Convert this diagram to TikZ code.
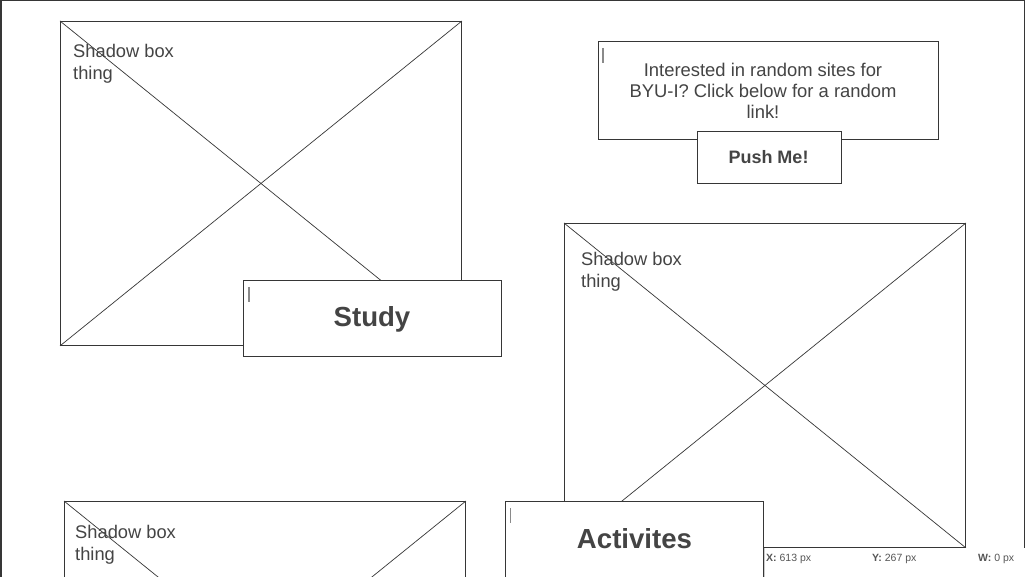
\documentclass[tikz,border=0pt]{standalone}
\usepackage{fontspec}
\setmainfont{Liberation Sans}
\definecolor{linec}{HTML}{363636}
\definecolor{textc}{HTML}{444444}
\definecolor{cursc}{HTML}{8A8A8A}
\definecolor{statc}{HTML}{555555}
\tikzset{
  wbox/.style={draw=linec, fill=white, line width=0.9pt, inner sep=0pt, anchor=north west},
  diag/.style={draw=linec, line width=0.7pt},
  shadowtxt/.style={text=textc, font=\fontsize{18.3}{22}\selectfont, align=left, anchor=base west, inner sep=0pt},
  infotxt/.style={text=textc, font=\fontsize{18.4}{21}\selectfont, align=center, anchor=base, inner sep=0pt},
  bigtxt/.style={text=textc, font=\bfseries\fontsize{27.6}{33}\selectfont, anchor=base, inner sep=0pt},
  btntxt/.style={text=textc, font=\bfseries\fontsize{18}{21}\selectfont, anchor=base, inner sep=0pt},
  cursor/.style={draw=cursc, line width=1.6pt},
  stattxt/.style={text=statc, font=\fontsize{10.5}{12}\selectfont, anchor=base west, inner sep=0pt},
}
\begin{document}
\begin{tikzpicture}[x=1pt,y=-1pt]
\useasboundingbox (0,0) rectangle (1026,577);
\clip (0,0) rectangle (1026,577);
\fill[white] (0,0) rectangle (1026,577);
% outer frame
\coordinate (f1) at (1,600);
\coordinate (f2) at (1,0.6);
\coordinate (f3) at (1024.3,0.6);
\coordinate (f4) at (1024.3,600);
\draw[linec, line width=1.3pt] (f1) -- (f2) -- (f3) -- (f4);

% top-left image placeholder
\node[wbox, minimum width=401pt, minimum height=324pt] (tl) at (60,21) {};
\draw[diag] (tl.north west) -- (tl.south east);
\draw[diag] (tl.north east) -- (tl.south west);
\node[shadowtxt] (tlt) at (73,79.5) {Shadow box\\thing};

% Study box
\node[wbox, minimum width=258pt, minimum height=76pt] (study) at (243,280) {};
\node[bigtxt] (studyt) at (372,327) {Study};
\coordinate (sc1) at (249,287);
\coordinate (sc2) at (249,302);
\draw[cursor] (sc1) -- (sc2);

% info box
\node[wbox, minimum width=340pt, minimum height=98pt] (info) at (598,41) {};
\node[infotxt] (infot) at (763,118.5) {Interested in random sites for\\BYU-I? Click below for a random\\link!};
\coordinate (ic1) at (603,48);
\coordinate (ic2) at (603,63);
\draw[cursor] (ic1) -- (ic2);

% Push Me button
\node[wbox, minimum width=144pt, minimum height=52pt] (push) at (697,131) {};
\node[btntxt] (pusht) at (768.5,163.5) {Push Me!};

% right image placeholder
\node[wbox, minimum width=401pt, minimum height=324pt] (rb) at (564,223) {};
\draw[diag] (rb.north west) -- (rb.south east);
\draw[diag] (rb.north east) -- (rb.south west);
\node[shadowtxt] (rbt) at (581,287.5) {Shadow box\\thing};

% bottom-left image placeholder
\node[wbox, minimum width=401pt, minimum height=324pt] (bl) at (64,501) {};
\draw[diag] (bl.north west) -- (bl.south east);
\draw[diag] (bl.north east) -- (bl.south west);
\node[shadowtxt] (blt) at (75,560.5) {Shadow box\\thing};

% Activites box
\node[wbox, minimum width=258pt, minimum height=100pt] (act) at (505,501) {};
\node[bigtxt] (actt) at (634.5,548) {Activites};
\coordinate (ac1) at (510.5,508);
\coordinate (ac2) at (510.5,523);
\draw[cursor] (ac1) -- (ac2);

% status bar
\fill[white] (764,547.6) rectangle (1026,577);
\coordinate (st1) at (764.3,548);
\coordinate (st2) at (764.3,577);
\draw[draw=black!20, line width=0.6pt] (st1) -- (st2);
\node[stattxt] (sx) at (766,561) {\textbf{X:} 613 px};
\node[stattxt] (sy) at (872,561) {\textbf{Y:} 267 px};
\node[stattxt] (sw) at (978,561) {\textbf{W:} 0 px};
\end{tikzpicture}
\end{document}
